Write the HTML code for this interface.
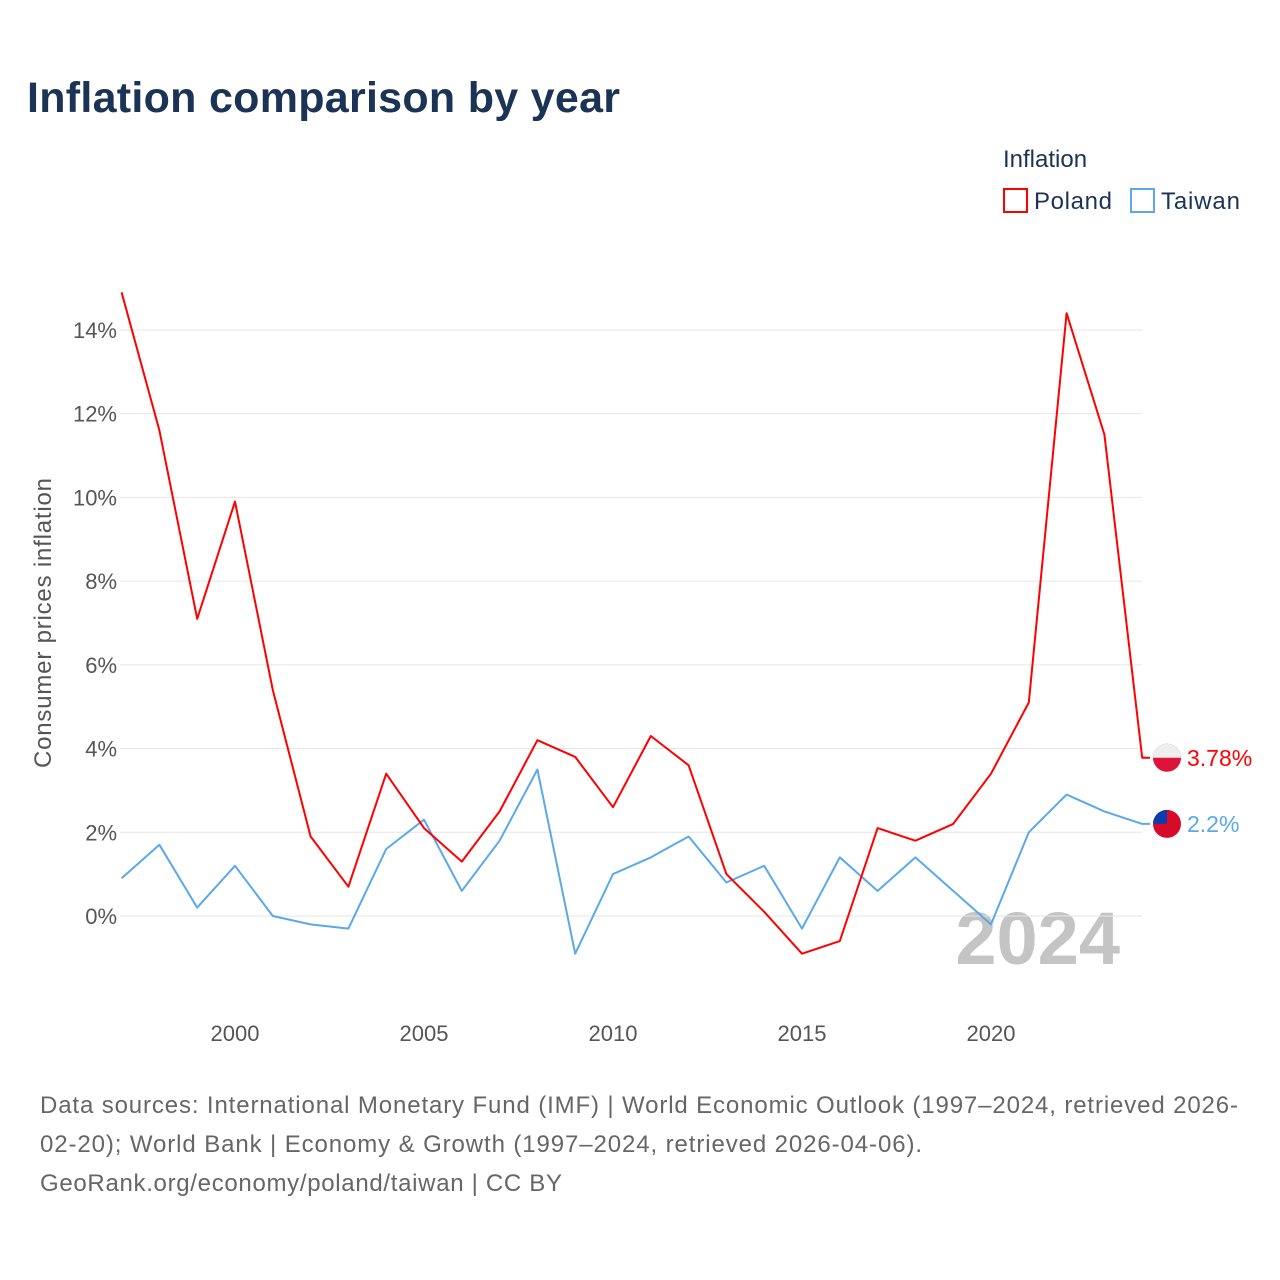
<!DOCTYPE html>
<html><head><meta charset="utf-8">
<style>
body{margin:0;background:#fff;font-family:"Liberation Sans",sans-serif;}
#wrap{position:relative;width:1280px;height:1280px;overflow:hidden;}
</style></head>
<body>
<div id="wrap">
<svg id="chart" width="1280" height="1280" xmlns="http://www.w3.org/2000/svg">
<text x="27" y="112" font-size="43" font-weight="bold" fill="#1b3354" textLength="593">Inflation comparison by year</text>
<text x="1003" y="167" font-size="24" fill="#1b3354">Inflation</text>
<g><rect x="1004" y="189" width="23" height="23" fill="none" stroke="#f00" stroke-width="2"/><text x="1034" y="209" font-size="24" fill="#1b3354" textLength="78">Poland</text></g>
<g><rect x="1131" y="189" width="23" height="23" fill="none" stroke="#5ba8ea" stroke-width="2"/><text x="1161" y="209" font-size="24" fill="#1b3354" textLength="79">Taiwan</text></g>
<text transform="translate(51,623) rotate(-90)" text-anchor="middle" font-size="24" fill="#555" textLength="290">Consumer prices inflation</text>
<text x="1120" y="964" text-anchor="end" font-size="74" font-weight="bold" fill="#c4c4c4">2024</text>
<g id="grid"></g><g id="ticks"></g><g id="lines"></g><g id="ends"></g>
<text x="40" y="1113" font-size="24" fill="#666" textLength="1198">Data sources: International Monetary Fund (IMF) | World Economic Outlook (1997–2024, retrieved 2026-</text>
<text x="40" y="1152" font-size="24" fill="#666" textLength="882">02-20); World Bank | Economy &amp; Growth (1997–2024, retrieved 2026-04-06).</text>
<text x="40" y="1191" font-size="24" fill="#666" textLength="522">GeoRank.org/economy/poland/taiwan | CC BY</text>
</svg>
</div>
<script>
const years=[1997,1998,1999,2000,2001,2002,2003,2004,2005,2006,2007,2008,2009,2010,2011,2012,2013,2014,2015,2016,2017,2018,2019,2020,2021,2022,2023,2024];
const poland=[14.9,11.6,7.1,9.9,5.4,1.9,0.7,3.4,2.1,1.3,2.5,4.2,3.8,2.6,4.3,3.6,1.0,0.1,-0.9,-0.6,2.1,1.8,2.2,3.4,5.1,14.4,11.5,3.78];
const taiwan=[0.9,1.7,0.2,1.2,0.0,-0.2,-0.3,1.6,2.3,0.6,1.8,3.5,-0.9,1.0,1.4,1.9,0.8,1.2,-0.3,1.4,0.6,1.4,0.6,-0.2,2.0,2.9,2.5,2.2];
const yTicks=[0,2,4,6,8,10,12,14];
const xTicks=[2000,2005,2010,2015,2020];
const NS="http://www.w3.org/2000/svg";
const x=v=>121.6+(v-1997)*37.8;
const y=v=>916-v*41.86;
function mk(tag,attrs,parent){const e=document.createElementNS(NS,tag);for(const k in attrs)e.setAttribute(k,attrs[k]);document.getElementById(parent).appendChild(e);return e;}
yTicks.forEach(t=>{
  const l=mk('line',{x1:120,x2:1142,y1:y(t),y2:y(t),stroke:'#e6e6e6','stroke-width':1},'grid');
  
  
  const tx=mk('text',{x:117,y:y(t)+8,'text-anchor':'end','font-size':22,fill:'#555'},'ticks');
  tx.textContent=t+'%';
  
  
});
xTicks.forEach(t=>{
  const tx=mk('text',{x:x(t),y:1041,'text-anchor':'middle','font-size':22,fill:'#555'},'ticks');
  tx.textContent=t;
  
  
});
function series(vals,color,name,label){
  let d=vals.map((v,i)=>(i?'L':'M')+x(years[i]).toFixed(1)+','+y(v).toFixed(1)).join(' ');
  d+=' H1150';
  const p=mk('path',{d:d,fill:'none',stroke:color,'stroke-width':2,'stroke-linejoin':'round'},'lines');
  
  
  const last=vals[vals.length-1];
  const c=mk('circle',{cx:1167,cy:y(last),r:14,fill:name==='poland'?'#dc143c':'#d80a2a'},'ends');
  
  
  if(name==='poland'){const h=mk('path',{d:`M1153,${y(last)} a14,14 0 0 1 28,0 z`,fill:'#eee'},'ends');}
  else{const r=mk('path',{d:`M1153,${y(last)} a14,14 0 0 1 14,-14 v14 z`,fill:'#0a3dac'},'ends');}
  const t=mk('text',{x:1187,y:y(last)+8,'font-size':23,fill:color},'ends');
  t.textContent=label;
  
  
}
series(taiwan,'#5ba8ea','taiwan','2.2%');
series(poland,'#f00','poland','3.78%');
</script>
</body></html>
